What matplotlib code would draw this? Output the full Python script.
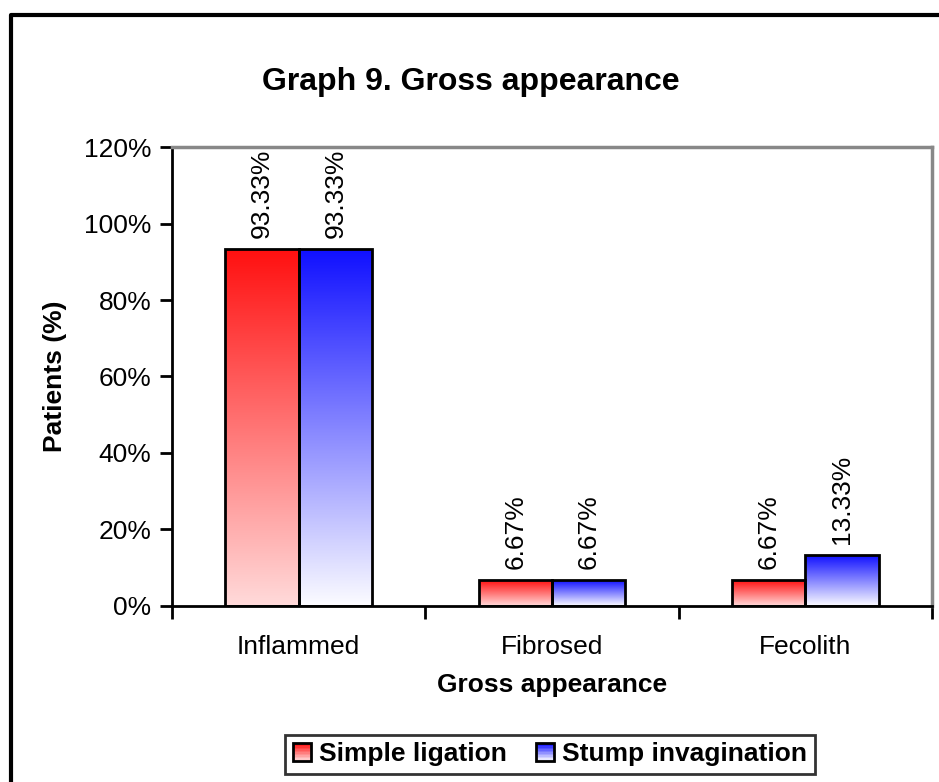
import matplotlib as mpl
mpl.use('Agg')
import matplotlib.pyplot as plt
import numpy as np
from matplotlib.patches import Rectangle
from matplotlib.lines import Line2D
from matplotlib.legend_handler import HandlerBase
from matplotlib.colors import LinearSegmentedColormap

plt.rcParams['font.family'] = ['Liberation Sans', 'DejaVu Sans']

categories = ['Inflammed', 'Fibrosed', 'Fecolith']
simple_ligation = [93.33, 6.67, 6.67]
stump_invagination = [93.33, 6.67, 13.33]
series_names = ['Simple ligation', 'Stump invagination']
yticks = [0, 20, 40, 60, 80, 100, 120]

FS = 19

# gradient maps: bottom colour -> top colour
red_map = LinearSegmentedColormap.from_list('redfade', ['#ffdada', '#ff1010'])
blue_map = LinearSegmentedColormap.from_list('bluefade', ['#fcfcff', '#1010ff'])

fig = plt.figure(figsize=(9.39, 7.82), dpi=100)
ax = fig.add_axes([0.1832, 0.2251, 0.8093, 0.5869])

x = np.arange(len(categories))
w = 0.289
grad = np.linspace(0, 1, 256).reshape(-1, 1)

for vals, cmap, off in [(simple_ligation, red_map, -w / 2),
                        (stump_invagination, blue_map, w / 2)]:
    bars = ax.bar(x + off, vals, w, facecolor='none', edgecolor='black',
                  linewidth=2, zorder=3)
    for b, v in zip(bars, vals):
        bx, bw, bh = b.get_x(), b.get_width(), b.get_height()
        ax.imshow(grad, cmap=cmap, origin='lower', aspect='auto',
                  extent=[bx, bx + bw, 0, bh], zorder=2)
        ax.annotate('%.2f%%' % v, (bx + bw / 2, bh), xytext=(0, 8),
                    textcoords='offset points', rotation=90,
                    ha='center', va='bottom', fontsize=FS)

ax.set_xlim(-0.5, len(categories) - 0.5)
ax.set_ylim(0, 120)
ax.set_yticks(yticks)
ax.set_yticklabels(['%d%%' % t for t in yticks], fontsize=FS)
ax.set_xticks(np.arange(len(categories) + 1) - 0.5)
ax.set_xticklabels([])
ax.set_xticks(x, minor=True)
ax.set_xticklabels(categories, minor=True, fontsize=FS)
ax.tick_params(axis='x', which='minor', length=0, pad=21)
ax.tick_params(axis='both', which='major', length=9, width=2, direction='out')
ax.tick_params(axis='y', pad=6)

for side in ['left', 'bottom']:
    ax.spines[side].set_linewidth(2)
for side in ['top', 'right']:
    ax.spines[side].set_color('#888888')
    ax.spines[side].set_linewidth(2.5)

ax.set_xlabel('Gross appearance', fontsize=FS, fontweight='bold', labelpad=10)
ax.set_ylabel('Patients (%)', fontsize=FS, fontweight='bold', labelpad=12)
fig.text(0.501, 0.895, 'Graph 9. Gross appearance', ha='center', va='center',
         fontsize=23, fontweight='bold')


class GradientHandler(HandlerBase):
    def __init__(self, cmap):
        super().__init__()
        self.cmap = cmap

    def create_artists(self, legend, orig_handle, xdescent, ydescent,
                       width, height, fontsize, trans):
        arts = []
        n = 12
        side = min(width, height)
        x0 = -xdescent
        y0 = -ydescent + (height - side) / 2
        for k in range(n):
            r = Rectangle((x0, y0 + side * k / n), side, side / n,
                          facecolor=self.cmap(k / (n - 1)), edgecolor='none',
                          transform=trans)
            arts.append(r)
        arts.append(Rectangle((x0, y0), side, side, facecolor='none',
                              edgecolor='black', linewidth=2, transform=trans))
        return arts


h1 = Rectangle((0, 0), 1, 1)
h2 = Rectangle((0, 0), 1, 1)
leg = fig.legend([h1, h2], series_names, loc='center',
                 bbox_to_anchor=(0.5857, 0.0352), ncol=2, frameon=True,
                 fancybox=False, edgecolor='black',
                 prop={'weight': 'bold', 'size': FS},
                 handler_map={h1: GradientHandler(red_map),
                              h2: GradientHandler(blue_map)},
                 handlelength=0.7, handleheight=0.7, handletextpad=0.3,
                 columnspacing=1.1, borderpad=0.3, borderaxespad=0)
leg.get_frame().set_linewidth(2)

# outer chart border: only left and top edges fall inside the image
fig.lines.append(Line2D([11 / 939, 11 / 939, 1.0], [0, 1 - 15 / 782, 1 - 15 / 782],
                        transform=fig.transFigure, color='black', linewidth=3))

fig.savefig('out.png', dpi=100)
